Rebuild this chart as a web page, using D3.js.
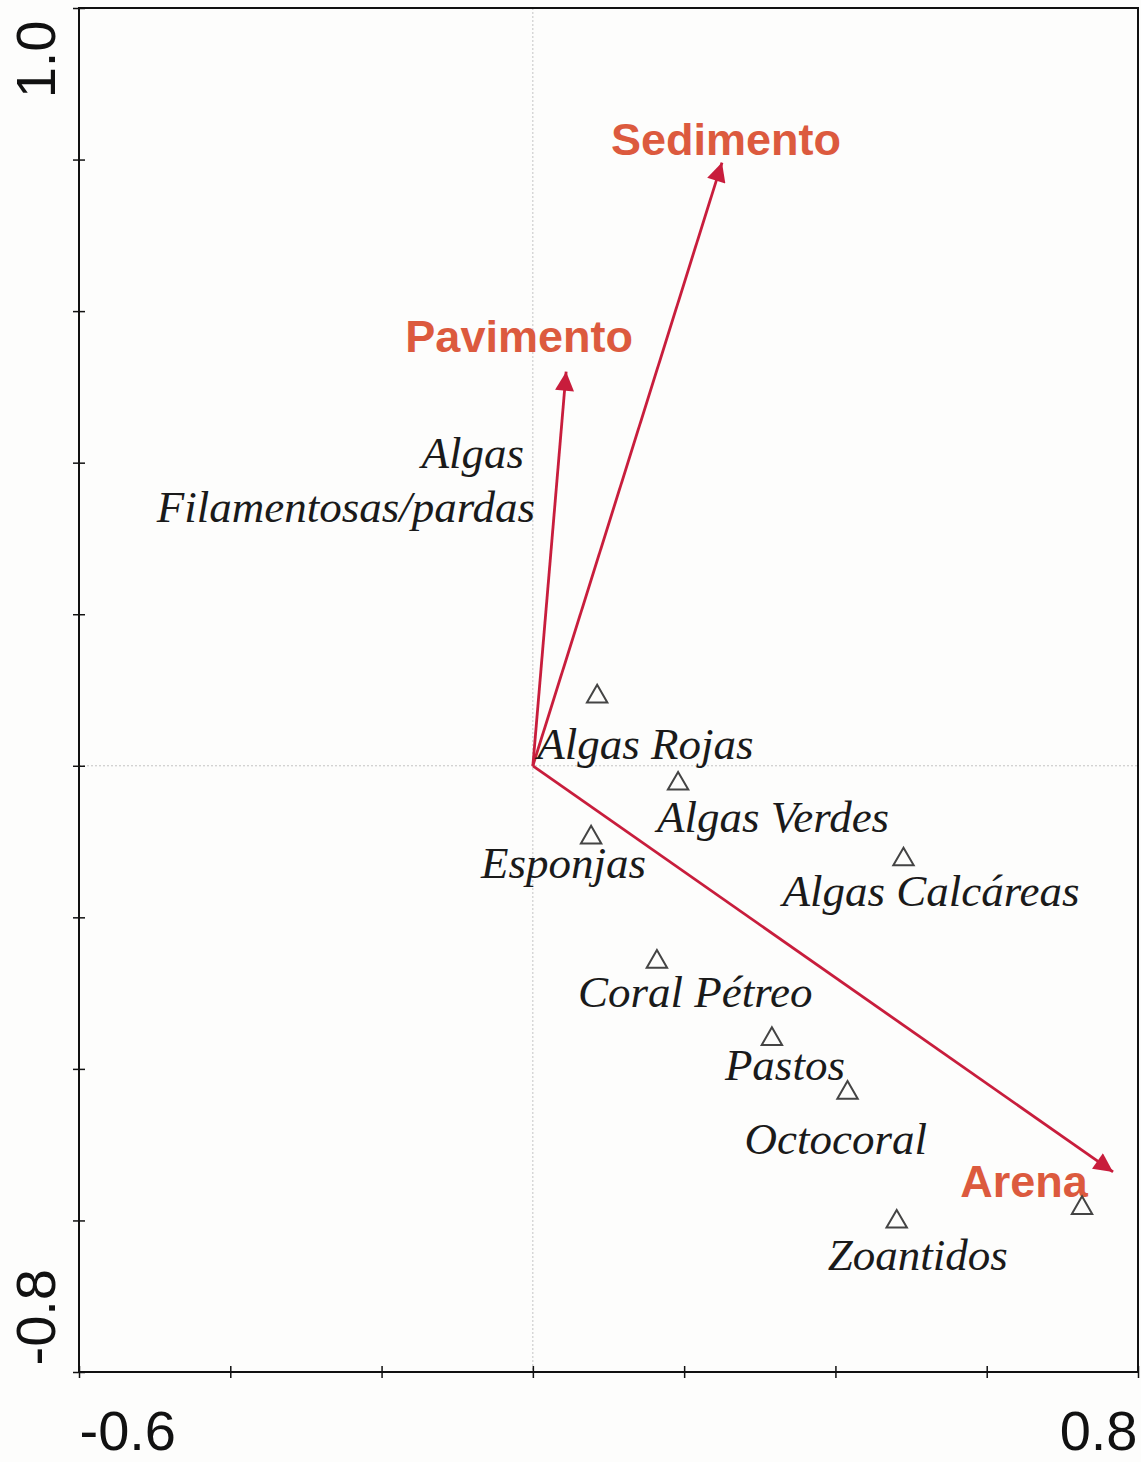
<!DOCTYPE html>
<html>
<head>
<meta charset="utf-8">
<script src="https://cdn.jsdelivr.net/npm/d3@7"></script>
<style>
  body { margin: 0; background: #fff; }
  svg { display: block; }
</style>
</head>
<body>
<svg></svg>
<script>
var width = 1141,
    height = 1462;

// environmental vectors (biplot arrows)
var envNames = ["Sedimento", "Pavimento", "Arena"];
var envX = [0.250, 0.044, 0.767];
var envY = [0.796, 0.520, -0.536];

// species scores
var spNames = ["Algas Rojas", "Algas Verdes", "Esponjas", "Algas Calcáreas", "Coral Pétreo",
               "Pastos", "Octocoral", "Zoantidos", ""];
var spX = [0.085, 0.192, 0.077, 0.490, 0.164, 0.316, 0.416, 0.481, 0.726];
var spY = [0.094, -0.021, -0.092, -0.121, -0.256, -0.358, -0.429, -0.599, -0.581];

// label with no marker drawn
var extraLabel = ["Algas", "Filamentosas/pardas"];
var extraX = 0.003, extraY = 0.396;

var xTicks = [-0.6, -0.4, -0.2, 0, 0.2, 0.4, 0.6, 0.8];
var yTicks = [-0.8, -0.6, -0.4, -0.2, 0, 0.2, 0.4, 0.6, 0.8, 1.0];
var xTickLabels = {"-0.6": "-0.6", "0.8": "0.8"};
var yTickLabels = {"-0.8": "-0.8", "1": "1.0"};

// label layout (pixel offsets from the marker)
var spLabelDx = [-60, -21, -110, -121, -79, -47, -103, -69, 0];
var spLabelDy = [64, 50, 43, 49, 47, 43, 63, 50, 0];
var envLabelDx = [4, -47, -89];
var envLabelDy = [-8, -20, 25];
var extraDx = [-11, 0];

var plotLeft = 79, plotRight = 1138, plotTop = 8, plotBottom = 1372;

var x = d3.scaleLinear().domain([-0.6, 0.8]).range([plotLeft, plotRight]);
var y = d3.scaleLinear().domain([-0.8, 1.0]).range([plotBottom, plotTop]);

var svg = d3.select("svg")
    .attr("width", width)
    .attr("height", height);

svg.append("rect")
    .attr("width", width).attr("height", height)
    .attr("fill", "#fdfdfc");

// zero lines
svg.append("line")
    .attr("x1", x(0)).attr("x2", x(0))
    .attr("y1", plotTop).attr("y2", plotBottom)
    .attr("stroke", "#c4c4c4").attr("stroke-width", 1)
    .attr("stroke-dasharray", "2,2");
svg.append("line")
    .attr("x1", plotLeft).attr("x2", plotRight)
    .attr("y1", y(0)).attr("y2", y(0))
    .attr("stroke", "#c4c4c4").attr("stroke-width", 1)
    .attr("stroke-dasharray", "2,2");

// frame
svg.append("rect")
    .attr("x", plotLeft).attr("y", plotTop)
    .attr("width", plotRight - plotLeft).attr("height", plotBottom - plotTop)
    .attr("fill", "none").attr("stroke", "#111").attr("stroke-width", 2);

// axes
var xAxis = svg.append("g")
    .attr("transform", "translate(0," + plotBottom + ")")
    .call(d3.axisBottom(x).tickValues(xTicks).tickSize(6)
        .tickFormat(function (d) { return xTickLabels[String(d)] || ""; }));
xAxis.select(".domain").remove();
xAxis.selectAll(".tick line").attr("y1", -6).attr("stroke", "#111").attr("stroke-width", 1.5);
xAxis.selectAll(".tick text")
    .attr("font-family", "Liberation Sans, Arial, sans-serif")
    .attr("font-size", 56)
    .attr("fill", "#111")
    .attr("y", 78).attr("dy", null)
    .attr("text-anchor", function (d) { return d < 0 ? "start" : "end"; })
    .attr("x", function (d) { return d < 0 ? 0 : -1; });

var yAxis = svg.append("g")
    .attr("transform", "translate(" + plotLeft + ",0)")
    .call(d3.axisLeft(y).tickValues(yTicks).tickSize(6)
        .tickFormat(function (d) { return yTickLabels[String(d)] || ""; }));
yAxis.select(".domain").remove();
yAxis.selectAll(".tick line").attr("x1", 6).attr("stroke", "#111").attr("stroke-width", 1.5);
yAxis.selectAll(".tick text")
    .attr("font-family", "Liberation Sans, Arial, sans-serif")
    .attr("font-size", 56)
    .attr("fill", "#111")
    .attr("transform", "rotate(-90)")
    .attr("dy", null)
    .attr("y", -24)
    .attr("x", function (d) { return d > 0 ? -12 : 7; })
    .attr("text-anchor", function (d) { return d > 0 ? "end" : "start"; });

// arrows
var arrowColor = "#c81d3c";
svg.append("defs").append("marker")
    .attr("id", "head")
    .attr("viewBox", "0 0 10 10")
    .attr("refX", 10).attr("refY", 5)
    .attr("markerUnits", "userSpaceOnUse")
    .attr("markerWidth", 28).attr("markerHeight", 19)
    .attr("orient", "auto")
  .append("path")
    .attr("d", "M0,0L10,5L0,10z")
    .attr("fill", arrowColor);

var env = envNames.map(function (n, i) { return {name: n, x: envX[i], y: envY[i], i: i}; });

svg.append("g").selectAll("line")
    .data(env)
    .enter()
    .append("line")
    .attr("x1", x(0)).attr("y1", y(0))
    .attr("x2", function (d) { return x(d.x); })
    .attr("y2", function (d) { return y(d.y); })
    .attr("stroke", arrowColor)
    .attr("stroke-width", 2.8)
    .attr("marker-end", "url(#head)");

svg.append("g").selectAll("text")
    .data(env)
    .enter()
    .append("text")
    .attr("x", function (d) { return x(d.x) + envLabelDx[d.i]; })
    .attr("y", function (d) { return y(d.y) + envLabelDy[d.i]; })
    .attr("text-anchor", "middle")
    .attr("font-family", "Liberation Sans, Arial, sans-serif")
    .attr("font-weight", "bold")
    .attr("font-size", 45)
    .attr("fill", "#dc5a3e")
    .text(function (d) { return d.name; });

// species
var sp = spNames.map(function (n, i) { return {name: n, x: spX[i], y: spY[i], i: i}; });

svg.append("g").selectAll("path")
    .data(sp)
    .enter()
    .append("path")
    .attr("d", d3.symbol().type(d3.symbolTriangle).size(180))
    .attr("transform", function (d) { return "translate(" + x(d.x) + "," + (y(d.y) + 2) + ")"; })
    .attr("fill", "none")
    .attr("stroke", "#444")
    .attr("stroke-width", 2);

svg.append("g").selectAll("text")
    .data(sp.filter(function (d) { return d.name; }))
    .enter()
    .append("text")
    .attr("x", function (d) { return x(d.x) + spLabelDx[d.i]; })
    .attr("y", function (d) { return y(d.y) + spLabelDy[d.i]; })
    .attr("font-family", "Liberation Serif, Times New Roman, serif")
    .attr("font-style", "italic")
    .attr("font-size", 45)
    .attr("fill", "#1a1a1a")
    .text(function (d) { return d.name; });

svg.append("g").selectAll("text")
    .data(extraLabel)
    .enter()
    .append("text")
    .attr("x", function (d, i) { return x(extraX) + extraDx[i]; })
    .attr("y", function (d, i) { return y(extraY) + 2 + i * 54; })
    .attr("text-anchor", "end")
    .attr("font-family", "Liberation Serif, Times New Roman, serif")
    .attr("font-style", "italic")
    .attr("font-size", 45)
    .attr("fill", "#1a1a1a")
    .text(function (d) { return d; });
</script>
</body>
</html>
